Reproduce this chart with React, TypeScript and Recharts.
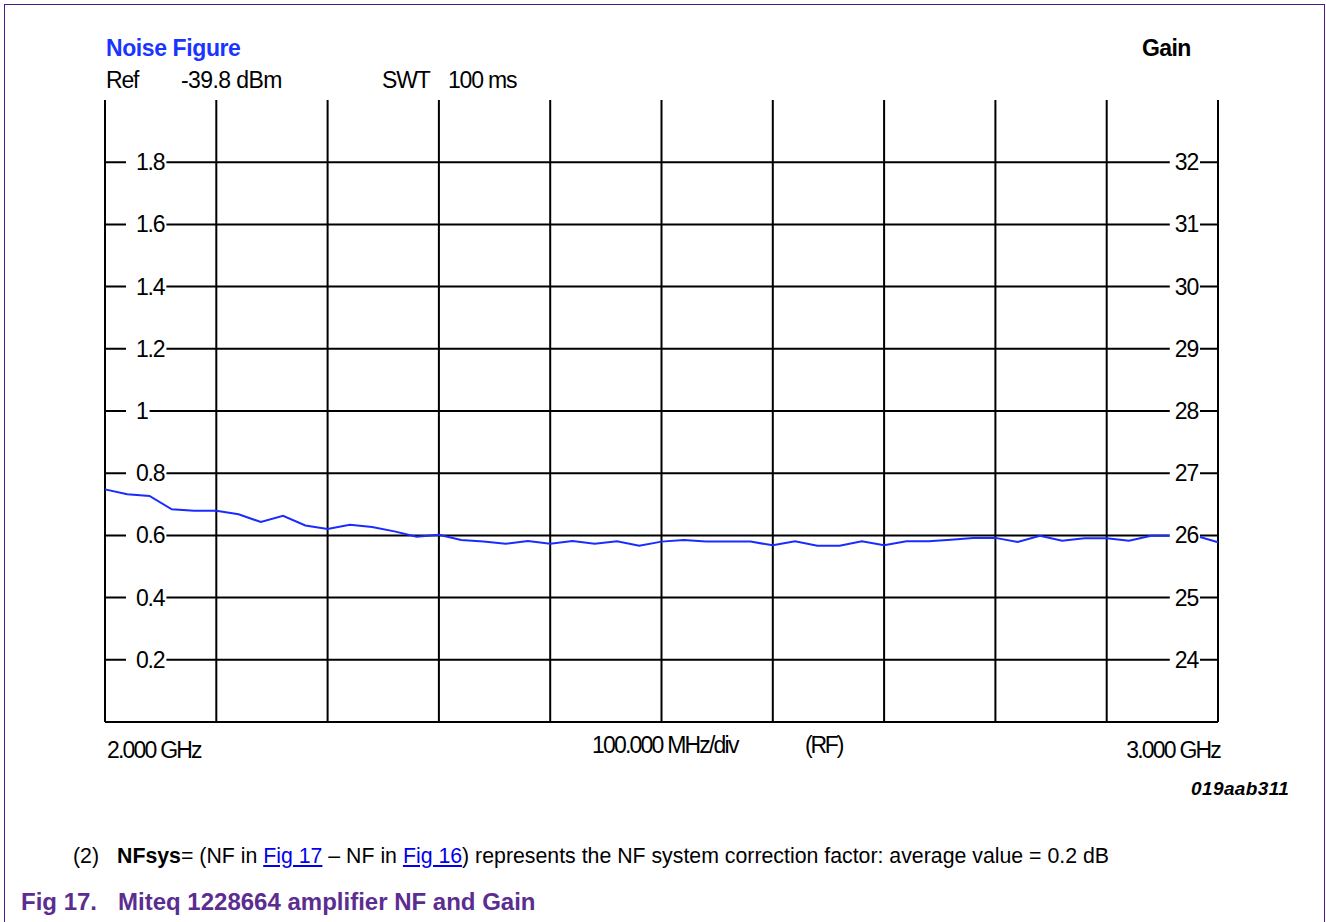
import React from "react";
import { LineChart, Line, XAxis, YAxis, CartesianGrid } from "recharts";

// Frequency sweep 2.000 GHz .. 3.000 GHz, 20 MHz steps (MHz)
const freqMHz: number[] = [
  2000, 2020, 2040, 2060, 2080, 2100, 2120, 2140, 2160, 2180, 2200, 2220, 2240, 2260, 2280, 2300, 2320,
  2340, 2360, 2380, 2400, 2420, 2440, 2460, 2480, 2500, 2520, 2540, 2560, 2580, 2600, 2620, 2640,
  2660, 2680, 2700, 2720, 2740, 2760, 2780, 2800, 2820, 2840, 2860, 2880, 2900, 2920, 2940, 2960, 2980, 3000,
];
// Noise figure trace (dB)
const noiseFigure: number[] = [
  0.748, 0.732, 0.727, 0.684, 0.679, 0.679, 0.668, 0.643, 0.663, 0.632, 0.621, 0.634, 0.627, 0.613, 0.596, 0.602, 0.585,
  0.58, 0.573, 0.582, 0.573, 0.582, 0.573, 0.581, 0.567, 0.58, 0.585, 0.58, 0.58, 0.58, 0.568, 0.581, 0.567,
  0.567, 0.581, 0.568, 0.581, 0.581, 0.586, 0.592, 0.592, 0.579, 0.599, 0.583, 0.591, 0.591, 0.583, 0.599, 0.599, 0.599, 0.578,
];
const xTicks: number[] = [2000, 2100, 2200, 2300, 2400, 2500, 2600, 2700, 2800, 2900, 3000];
const nfTicks: number[] = [0.2, 0.4, 0.6, 0.8, 1, 1.2, 1.4, 1.6, 1.8];
const gainTicks: number[] = [24, 25, 26, 27, 28, 29, 30, 31, 32];
const xTickLabels: Record<number, string> = { 2000: "2.000 GHz", 3000: "3.000 GHz" };

const data = freqMHz.map((f, i) => ({ f, nf: noiseFigure[i] }));

const FONT = "'Liberation Sans', Arial, sans-serif";
const TICK_FS = 23;

// approximate rendered width of a numeric label at TICK_FS with -1.2 letter spacing
const labelWidth = (s: string) =>
  s.split("").reduce((acc, ch) => acc + (ch === "." ? 5.2 : 11.6), 0);

const LeftTick = (props: any) => {
  const { x, y, payload } = props;
  const label = String(payload.value);
  const w = labelWidth(label) + 12;
  return (
    <g>
      <rect x={x + 21} y={y - 12} width={w} height={24} fill="#fff" />
      <text x={x + 31} y={y + 8} fontSize={TICK_FS} fontFamily={FONT} letterSpacing={-1.2} fill="#000">
        {label}
      </text>
    </g>
  );
};

const RightTick = (props: any) => {
  const { x, y, payload } = props;
  const label = String(payload.value);
  const w = labelWidth(label) + 7;
  return (
    <g>
      <rect x={x - 18 - w} y={y - 12} width={w} height={24} fill="#fff" />
      <text x={x - 20} y={y + 8} fontSize={TICK_FS} fontFamily={FONT} letterSpacing={-1.2} textAnchor="end" fill="#000">
        {label}
      </text>
    </g>
  );
};

const BottomTick = (props: any) => {
  const { x, y, payload } = props;
  const label = xTickLabels[payload.value];
  if (!label) return null;
  const isEnd = payload.value === 3000;
  return (
    <text
      x={x + 2}
      y={y + 28}
      fontSize={TICK_FS}
      fontFamily={FONT}
      letterSpacing={-1.8}
      textAnchor={isEnd ? "end" : "start"}
      fill="#000"
    >
      {label}
    </text>
  );
};

const abs = (left: number, top: number, extra: React.CSSProperties = {}): React.CSSProperties => ({
  position: "absolute",
  left,
  top,
  fontFamily: FONT,
  whiteSpace: "nowrap",
  lineHeight: 1,
  ...extra,
});

const chartText: React.CSSProperties = { fontSize: 23, color: "#000", letterSpacing: -1.2 };

export default function App() {
  return (
    <div style={{ position: "absolute", left: 0, top: 0, width: 1326, height: 922, background: "#fff", overflow: "hidden" }}>
      {/* frame */}
      <div style={{ position: "absolute", left: 4, top: 4, width: 1321, height: 930, borderLeft: "1.5px solid #4b1a8a", borderTop: "1.5px solid #4b1a8a", borderRight: "1.5px solid #4b1a8a", boxSizing: "border-box" }} />

      <div style={{ position: "absolute", left: 0, top: 0 }}>
        <LineChart width={1326} height={922} data={data} margin={{ top: 100, right: 48, bottom: 170, left: 45 }}>
          <CartesianGrid
            yAxisId="nf"
            stroke="#000"
            strokeWidth={2}
            horizontal={true}
            vertical={true}
            horizontalValues={nfTicks}
            verticalValues={xTicks}
          />
          <XAxis
            dataKey="f"
            type="number"
            domain={[2000, 3000]}
            ticks={xTicks}
            height={30}
            axisLine={{ stroke: "#000", strokeWidth: 2 }}
            tickLine={false}
            tick={BottomTick}
            interval={0}
          />
          <YAxis
            yAxisId="nf"
            orientation="left"
            domain={[0, 2]}
            ticks={nfTicks}
            width={60}
            axisLine={false}
            tickLine={false}
            tickSize={0}
            tickMargin={0}
            tick={LeftTick}
            interval={0}
          />
          <YAxis
            yAxisId="gain"
            orientation="right"
            domain={[23, 33]}
            ticks={gainTicks}
            width={60}
            axisLine={false}
            tickLine={false}
            tickSize={0}
            tickMargin={0}
            tick={RightTick}
            interval={0}
            allowDataOverflow={true}
          />
          <Line
            yAxisId="gain"
            dataKey="gain"
            stroke="none"
            dot={false}
            legendType="none"
            isAnimationActive={false}
          />
          <Line
            yAxisId="nf"
            dataKey="nf"
            type="linear"
            stroke="#1a2bff"
            strokeWidth={2}
            dot={false}
            isAnimationActive={false}
          />
        </LineChart>
      </div>

      {/* header texts */}
      <div style={abs(106, 37, { fontSize: 23, fontWeight: 900, color: "#1a35ff", letterSpacing: -0.4 })}>Noise Figure</div>
      <div style={abs(1142, 37, { fontSize: 23, fontWeight: 900, color: "#000", letterSpacing: -0.6 })}>Gain</div>
      <div style={abs(106, 69, chartText)}>Ref</div>
      <div style={abs(181, 69, { ...chartText, letterSpacing: -0.6 })}>-39.8 dBm</div>
      <div style={abs(382, 69, chartText)}>SWT</div>
      <div style={abs(448, 69, chartText)}>100 ms</div>

      {/* x annotations */}
      <div style={abs(592, 734, { ...chartText, letterSpacing: -1.8 })}>100.000 MHz/div</div>
      <div style={abs(805, 734, { ...chartText, letterSpacing: -2.2 })}>(RF)</div>
      <div style={abs(1191, 779, { fontSize: 19, color: "#000", fontStyle: "italic", fontWeight: 700, letterSpacing: 0.4 })}>019aab311</div>

      {/* footnote */}
      <div style={abs(73, 846, { fontSize: 21.3, color: "#000" })}>
        (2)
        <span style={{ marginLeft: 18, fontWeight: 700 }}>NFsys</span>= (NF in{" "}
        <span style={{ color: "#0000ee", textDecoration: "underline" }}>Fig 17</span> – NF in{" "}
        <span style={{ color: "#0000ee", textDecoration: "underline" }}>Fig 16</span>) represents the NF system correction factor: average value = 0.2 dB
      </div>

      {/* caption */}
      <div style={abs(21, 890, { fontSize: 24, fontWeight: 700, color: "#5c2d91" })}>
        Fig 17.<span style={{ marginLeft: 21 }}>Miteq 1228664 amplifier NF and Gain</span>
      </div>
    </div>
  );
}
